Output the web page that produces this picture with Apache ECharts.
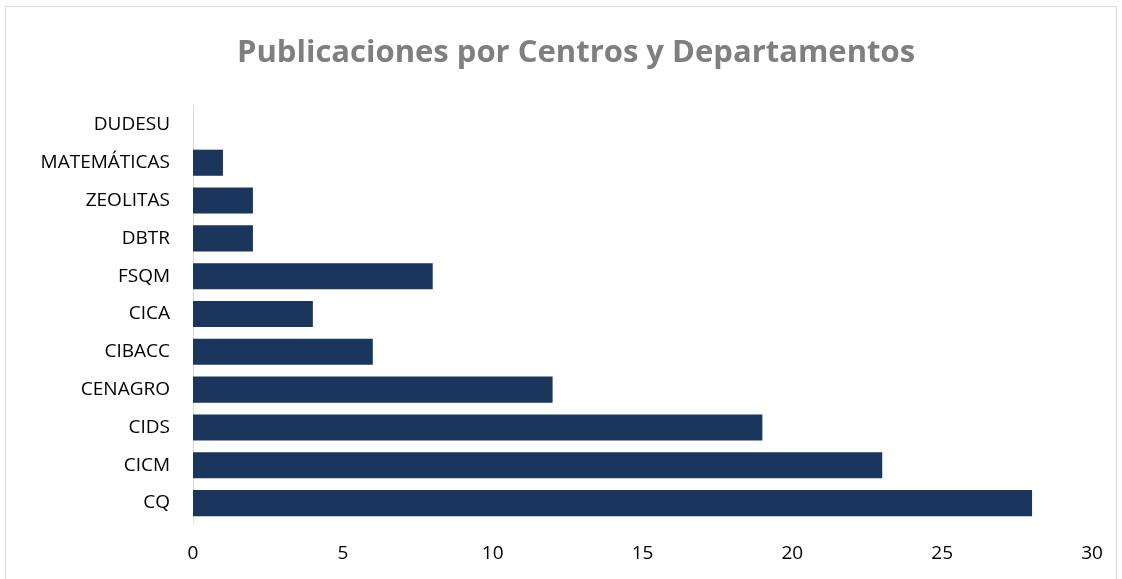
<!DOCTYPE html>
<html>
<head>
<meta charset="utf-8">
<script src="https://cdn.jsdelivr.net/npm/echarts@6/dist/echarts.min.js"></script>
<style>
  html, body { margin: 0; padding: 0; background: #fff; }
  #chart { width: 1122px; height: 579px; }
</style>
</head>
<body>
<div id="chart"></div>
<script>
// categories from bottom to top (as drawn)
var centros = ["CQ", "CICM", "CIDS", "CENAGRO", "CIBACC", "CICA", "FSQM", "DBTR", "ZEOLITAS", "MATEMÁTICAS", "DUDESU"];
var publicaciones = [28, 23, 19, 12, 6, 4, 8, 2, 2, 1, 0];
var xTicks = [0, 5, 10, 15, 20, 25, 30];

var myChart = echarts.init(document.getElementById("chart"));
var option = {
  backgroundColor: "#fff",
  animation: false,
  title: {
    text: "Publicaciones por Centros y Departamentos",
    left: 232,
    top: 33,
    textStyle: {
      fontFamily: "Open Sans",
      fontWeight: "bold",
      fontSize: 31,
      color: "#7f7f7f"
    }
  },
  graphic: [{
    type: "rect",
    shape: { x: 5.5, y: 6.5, width: 1111, height: 580 },
    style: { fill: "none", stroke: "#d9d9d9", lineWidth: 1 }
  }],
  grid: { left: 193, right: 30, top: 106, bottom: 57 },
  xAxis: {
    type: "value",
    min: xTicks[0],
    max: xTicks[xTicks.length - 1],
    interval: 5,
    axisLine: { show: false },
    axisTick: { show: false },
    splitLine: { show: false },
    axisLabel: {
      margin: 22,
      fontFamily: "Open Sans",
      fontSize: 19,
      color: "#000"
    }
  },
  yAxis: {
    type: "category",
    data: centros,
    axisLine: { show: true, lineStyle: { color: "#d9d9d9", width: 1 } },
    axisTick: { show: false },
    axisLabel: {
      margin: 23,
      fontFamily: "Open Sans",
      fontSize: 19,
      color: "#000"
    }
  },
  series: [{
    type: "bar",
    data: publicaciones,
    barCategoryGap: "31%",
    itemStyle: { color: "#1a365d" }
  }]
};
myChart.setOption(option);
</script>
</body>
</html>
